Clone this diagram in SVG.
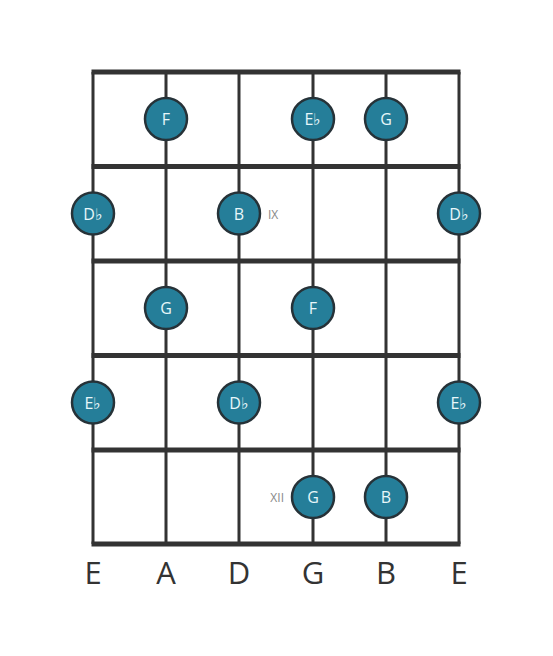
<svg xmlns="http://www.w3.org/2000/svg" width="553" height="656" viewBox="0 0 553 656">
<style>
.str{stroke:#333;stroke-width:3;}
.fret{stroke:#333;stroke-width:5;}
.note circle{fill:#257e99;stroke:#263238;stroke-width:2.5;}
.note text{fill:#e8f7fa;font-family:"Open Sans",sans-serif;font-size:16px;text-anchor:middle;dominant-baseline:central;}
.roman{fill:#888;font-family:"Open Sans",sans-serif;font-size:12px;dominant-baseline:central;}
.sname{fill:#333;font-family:"Open Sans",sans-serif;font-size:31px;text-anchor:middle;}
</style>
<rect width="553" height="656" fill="#fff"/>
<g id="connectors">
<line class="str" x1="93" y1="72" x2="93" y2="544"/>
<line class="str" x1="166" y1="72" x2="166" y2="544"/>
<line class="str" x1="239" y1="72" x2="239" y2="544"/>
<line class="str" x1="313" y1="72" x2="313" y2="544"/>
<line class="str" x1="386" y1="72" x2="386" y2="544"/>
<line class="str" x1="459" y1="72" x2="459" y2="544"/>
<line class="fret" x1="91.5" y1="72" x2="460.5" y2="72"/>
<line class="fret" x1="91.5" y1="166.5" x2="460.5" y2="166.5"/>
<line class="fret" x1="91.5" y1="261" x2="460.5" y2="261"/>
<line class="fret" x1="91.5" y1="355.5" x2="460.5" y2="355.5"/>
<line class="fret" x1="91.5" y1="450" x2="460.5" y2="450"/>
<line class="fret" x1="91.5" y1="544" x2="460.5" y2="544"/>
</g>
<g id="n1" class="note"><circle cx="166" cy="119" r="21"/><text x="166" y="119">F</text></g>
<g id="n2" class="note"><circle cx="313" cy="119" r="21"/><text x="313" y="119">E♭</text></g>
<g id="n3" class="note"><circle cx="386" cy="119" r="21"/><text x="386" y="119">G</text></g>
<g id="n4" class="note"><circle cx="93" cy="213.5" r="21"/><text x="93" y="213.5">D♭</text></g>
<g id="n5" class="note"><circle cx="239" cy="213.5" r="21"/><text x="239" y="213.5">B</text></g>
<g id="n6" class="note"><circle cx="459" cy="213.5" r="21"/><text x="459" y="213.5">D♭</text></g>
<g id="n7" class="note"><circle cx="166" cy="308" r="21"/><text x="166" y="308">G</text></g>
<g id="n8" class="note"><circle cx="313" cy="308" r="21"/><text x="313" y="308">F</text></g>
<g id="n9" class="note"><circle cx="93" cy="402.5" r="21"/><text x="93" y="402.5">E♭</text></g>
<g id="n10" class="note"><circle cx="239" cy="402.5" r="21"/><text x="239" y="402.5">D♭</text></g>
<g id="n11" class="note"><circle cx="459" cy="402.5" r="21"/><text x="459" y="402.5">E♭</text></g>
<g id="n12" class="note"><circle cx="313" cy="497" r="21"/><text x="313" y="497">G</text></g>
<g id="n13" class="note"><circle cx="386" cy="497" r="21"/><text x="386" y="497">B</text></g>
<g id="labels">
<text class="roman" x="268" y="214">IX</text>
<text class="roman" x="284" y="497" text-anchor="end">XII</text>
<text class="sname" x="93" y="584">E</text>
<text class="sname" x="166" y="584">A</text>
<text class="sname" x="239" y="584">D</text>
<text class="sname" x="313" y="584">G</text>
<text class="sname" x="386" y="584">B</text>
<text class="sname" x="459" y="584">E</text>
</g>
</svg>
